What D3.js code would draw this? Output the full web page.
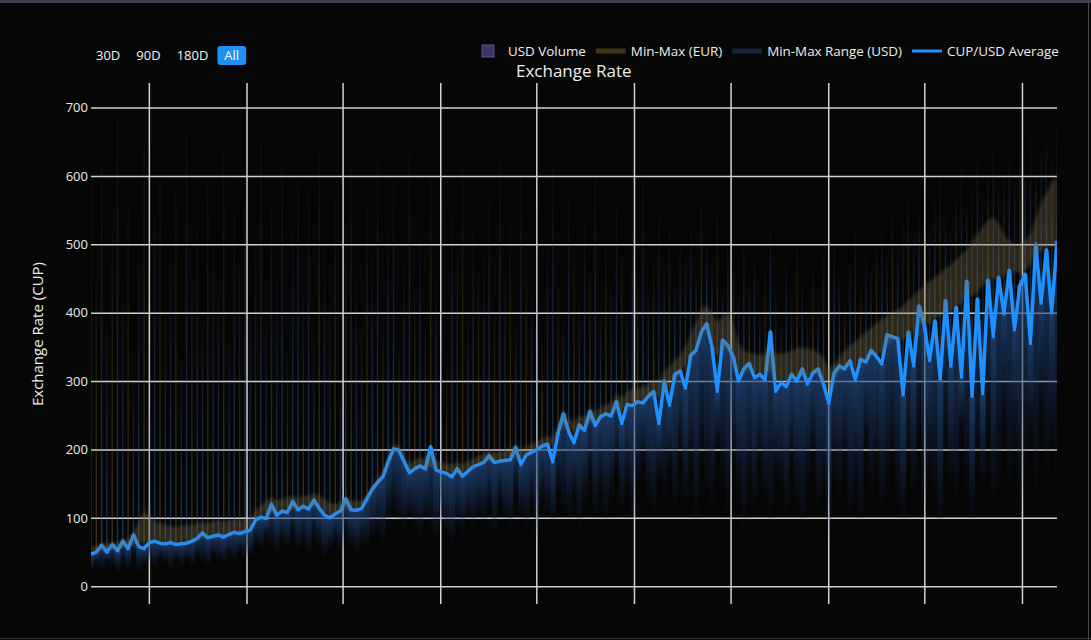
<!DOCTYPE html>
<html>
<head>
<meta charset="utf-8">
<script src="https://cdn.jsdelivr.net/npm/d3@7"></script>
<style>
  html, body { margin: 0; padding: 0; background: #060606; }
  svg { display: block; font-family: "Open Sans", sans-serif; }
</style>
</head>
<body>
<svg id="chart" width="1091" height="640"></svg>
<script>
// CUP/USD average, one value every 10 days
var avgUsd = [
  47, 50, 60, 50, 61, 52, 66, 55, 75, 58,
  55, 64, 66, 63, 62, 64, 61, 62, 63, 66,
  70, 78, 71, 73, 75, 72, 76, 79, 77, 80,
  82, 97, 101, 99, 120, 104, 110, 108, 124, 112,
  117, 113, 126, 114, 104, 100, 106, 110, 128, 112,
  111, 114, 128, 142, 152, 160, 182, 201, 199, 182,
  166, 172, 176, 172, 204, 170, 167, 165, 160, 172,
  161, 168, 175, 178, 181, 191, 181, 183, 184, 185,
  203, 178, 192, 196, 200, 205, 208, 182, 224, 252,
  226, 210, 236, 228, 256, 235, 248, 252, 249, 270,
  238, 266, 264, 270, 268, 278, 285, 238, 300, 265,
  310, 315, 290, 338, 345, 372, 384, 350, 285, 360,
  352, 336, 300, 318, 326, 305, 310, 302, 372, 285,
  298, 292, 310, 300, 318, 296, 312, 318, 296, 268,
  312, 322, 318, 330, 302, 332, 328, 345, 336, 325,
  368, 365, 362, 280, 372, 322, 410, 382, 330, 388,
  303, 418, 322, 408, 306, 446, 278, 420, 282, 448,
  365, 452, 398, 462, 375, 440, 456, 355, 500, 414,
  492, 400, 505
];

// EUR min-max band
var eurMin = [
  48, 50, 52, 52, 54, 54, 56, 56, 60, 62,
  64, 66, 66, 64, 63, 64, 63, 63, 64, 66,
  70, 72, 72, 73, 74, 74, 76, 77, 78, 80,
  84, 98, 102, 104, 108, 106, 110, 110, 113, 113,
  115, 115, 116, 114, 106, 102, 106, 110, 112, 112,
  112, 115, 125, 140, 150, 160, 180, 196, 196, 182,
  168, 172, 174, 172, 174, 170, 168, 165, 163, 166,
  164, 168, 174, 178, 181, 183, 182, 183, 184, 186,
  188, 186, 192, 196, 200, 204, 206, 205, 222, 235,
  228, 225, 232, 232, 240, 240, 246, 250, 252, 260,
  255, 264, 265, 268, 270, 276, 280, 275, 290, 290,
  305, 312, 320, 335, 345, 365, 378, 350, 335, 350,
  345, 330, 310, 315, 318, 310, 310, 308, 315, 300,
  300, 300, 306, 305, 310, 306, 310, 312, 300, 285,
  305, 315, 318, 325, 320, 328, 330, 338, 338, 340,
  355, 360, 362, 360, 366, 370, 385, 385, 382, 390,
  395, 405, 400, 410, 412, 425, 425, 430, 440, 445,
  450, 450, 455, 460, 460, 458, 462, 470, 485, 490,
  495, 498, 500
];
var eurMax = [
  58, 60, 64, 62, 66, 64, 70, 68, 80, 95,
  110, 105, 95, 92, 90, 88, 86, 88, 90, 90,
  92, 94, 92, 95, 96, 94, 96, 98, 97, 98,
  100, 112, 118, 125, 130, 125, 128, 130, 132, 130,
  132, 133, 135, 133, 128, 122, 120, 124, 130, 126,
  125, 126, 135, 148, 160, 170, 190, 208, 206, 192,
  180, 185, 188, 186, 195, 184, 182, 180, 178, 182,
  178, 182, 186, 190, 193, 198, 195, 197, 198, 200,
  208, 200, 205, 208, 212, 216, 220, 218, 238, 258,
  245, 240, 250, 248, 262, 255, 262, 265, 268, 282,
  275, 285, 288, 290, 292, 296, 302, 300, 315, 322,
  330, 338, 350, 370, 385, 405, 412, 400, 385, 395,
  400, 385, 355, 345, 342, 340, 338, 340, 345, 342,
  340, 342, 345, 348, 350, 348, 345, 342, 335, 320,
  325, 335, 345, 352, 358, 365, 372, 378, 385, 390,
  395, 400, 405, 410, 418, 425, 432, 440, 445, 452,
  458, 465, 470, 478, 485, 492, 505, 515, 525, 535,
  540, 530, 515, 505, 500, 498, 505, 515, 540, 560,
  575, 590, 600
];

// USD min-max range: lowest quote and the rare high spikes
var usdMin = [
  22, 30, 25, 35, 28, 20, 32, 26, 38, 22,
  30, 35, 28, 40, 33, 25, 38, 30, 36, 28,
  42, 35, 30, 45, 38, 32, 44, 36, 48, 40,
  45, 60, 52, 70, 58, 48, 66, 55, 72, 50,
  62, 45, 68, 56, 40, 52, 64, 48, 70, 58,
  44, 60, 55, 70, 80, 62, 95, 110, 90, 75,
  100, 85, 70, 95, 80, 65, 90, 72, 60, 88,
  75, 95, 82, 100, 90, 110, 75, 120, 95, 80,
  130, 100, 85, 115, 70, 125, 105, 90, 140, 110,
  95, 130, 80, 120, 150, 100, 135, 90, 125, 160,
  110, 140, 95, 150, 175, 120, 100, 160, 130, 170,
  110, 180, 120, 160, 90, 180, 140, 110, 200, 150,
  95, 170, 130, 80, 150, 110, 175, 125, 90, 160,
  140, 105, 170, 120, 85, 150, 190, 110, 140, 70,
  160, 125, 180, 100, 145, 90, 200, 130, 165, 110,
  150, 185, 120, 90, 170, 140, 210, 100, 160, 130,
  80, 190, 150, 115, 220, 135, 95, 175, 150, 205,
  120, 160, 230, 140, 190, 110, 170, 210, 130, 240,
  160, 200, 150
];
var spikeHi = [
  600, 450, 620, 380, 520, 690, 420, 560, 300, 480,
  650, 350, 540, 610, 400, 470, 580, 330, 660, 450,
  520, 380, 600, 490, 430, 640, 360, 550, 470, 610,
  400, 500, 650, 380, 560, 450, 620, 340, 520, 600,
  430, 580, 360, 640, 490, 410, 570, 300, 530, 610,
  450, 380, 560, 480, 620, 400, 520, 590, 350, 470,
  640, 430, 510, 380, 600, 450, 560, 320, 540, 480,
  610, 400, 520, 460, 480, 560, 400, 620, 450, 530,
  380, 600, 470, 420, 550, 360, 500, 610, 440, 390,
  570, 480, 420, 530, 460, 600, 410, 500, 440, 560,
  480, 400, 520, 450, 590, 430, 480, 540, 460, 520,
  440, 500, 480, 520, 450, 560, 500, 470, 540, 430,
  510, 460, 420, 500, 440, 480, 400, 460, 520, 430,
  380, 470, 420, 500, 440, 390, 460, 410, 480, 430,
  500, 450, 420, 470, 520, 440, 480, 460, 500, 520,
  480, 540, 500, 530, 560, 510, 540, 580, 520, 560,
  600, 540, 520, 570, 610, 550, 580, 620, 560, 600,
  640, 580, 600, 620, 590, 640, 610, 660, 600, 630,
  650, 620, 680
];

var yTicks = [0, 100, 200, 300, 400, 500, 600, 700];
var rangeButtons = ["30D", "90D", "180D", "All"];
var legendLabels = ["USD Volume", "Min-Max (EUR)", "Min-Max Range (USD)", "CUP/USD Average"];
var legendKinds = ["square", "band", "band", "line"];
var legendColors = ["#3b3569", "#3d3514", "#13233d", "#1e90ff"];

var start = new Date(2021, 2, 14);
var dates = avgUsd.map(function(d, i) { return d3.timeDay.offset(start, i * 10); });

var width = 1091, height = 640;
var plot = {left: 91, right: 1057, top: 83, bottom: 604};

var svg = d3.select("#chart");

var x = d3.scaleTime()
    .domain([dates[0], dates[dates.length - 1]])
    .range([plot.left, plot.right]);
var y = d3.scaleLinear()
    .domain([-26, 736])
    .range([plot.bottom, plot.top]);
var step = x(dates[1]) - x(dates[0]);

// frame of the screenshot
svg.append("rect").attr("width", width).attr("height", height).attr("fill", "#060606");
svg.append("rect").attr("width", width).attr("height", 3).attr("fill", "#3a4049");
svg.append("line").attr("x1", 1088.5).attr("x2", 1088.5).attr("y1", 3).attr("y2", height)
    .attr("stroke", "#4a4a4a");
svg.append("line").attr("x1", 0).attr("x2", width).attr("y1", 638.5).attr("y2", 638.5)
    .attr("stroke", "#3a3a3a");

var defs = svg.append("defs");
defs.append("clipPath").attr("id", "plotClip")
  .append("rect")
    .attr("x", plot.left).attr("y", plot.top)
    .attr("width", plot.right - plot.left).attr("height", plot.bottom - plot.top);

var g1 = defs.append("linearGradient").attr("id", "usdGrad")
    .attr("x1", 0).attr("y1", 0).attr("x2", 0).attr("y2", 1);
g1.append("stop").attr("offset", 0).attr("stop-color", "rgb(36,78,136)").attr("stop-opacity", 0.7);
g1.append("stop").attr("offset", 0.45).attr("stop-color", "rgb(26,56,102)").attr("stop-opacity", 0.5);
g1.append("stop").attr("offset", 1).attr("stop-color", "rgb(18,38,74)").attr("stop-opacity", 0.02);

var g2 = defs.append("linearGradient").attr("id", "spikeBlue")
    .attr("x1", 0).attr("y1", 0).attr("x2", 0).attr("y2", 1);
g2.append("stop").attr("offset", 0).attr("stop-color", "rgb(55,105,185)").attr("stop-opacity", 0.06);
g2.append("stop").attr("offset", 1).attr("stop-color", "rgb(55,105,185)").attr("stop-opacity", 0.45);

var g3 = defs.append("linearGradient").attr("id", "spikeGold")
    .attr("x1", 0).attr("y1", 0).attr("x2", 0).attr("y2", 1);
g3.append("stop").attr("offset", 0).attr("stop-color", "rgb(150,125,60)").attr("stop-opacity", 0.05);
g3.append("stop").attr("offset", 1).attr("stop-color", "rgb(150,125,60)").attr("stop-opacity", 0.35);

defs.append("filter").attr("id", "soft")
  .append("feGaussianBlur").attr("stdDeviation", 1.5);

// grid
svg.append("g")
    .attr("class", "y-grid")
    .attr("transform", "translate(" + plot.left + ",0)")
    .call(d3.axisLeft(y).tickValues(yTicks).tickSize(-(plot.right - plot.left)).tickPadding(3))
    .call(function(g) { g.select(".domain").remove(); })
    .call(function(g) {
      g.selectAll("line").attr("stroke", "#d2d2d2").attr("stroke-width", 1.5);
      g.selectAll("text").attr("fill", "#ebebeb").style("font-size", "13px")
        .style("font-family", "'Open Sans', sans-serif");
    });

svg.append("g")
    .attr("class", "x-grid")
    .attr("transform", "translate(0," + plot.bottom + ")")
    .call(d3.axisBottom(x).ticks(d3.timeMonth.every(6)).tickSize(-(plot.bottom - plot.top)).tickFormat(""))
    .call(function(g) { g.select(".domain").remove(); })
    .call(function(g) { g.selectAll("line").attr("stroke", "#d2d2d2").attr("stroke-width", 1.5); });

var chart = svg.append("g").attr("clip-path", "url(#plotClip)");

// faint high spikes
chart.append("g")
  .selectAll("rect")
  .data(dates)
  .enter().append("rect")
    .attr("x", function(d) { return x(d) - 0.7; })
    .attr("width", 1.4)
    .attr("y", function(d, i) { return y(spikeHi[i]); })
    .attr("height", function(d, i) { return y(avgUsd[i]) - y(spikeHi[i]); })
    .attr("fill", function(d, i) { return i % 3 === 1 ? "url(#spikeGold)" : "url(#spikeBlue)"; });

// USD min-max range under the average
chart.append("g")
  .selectAll("rect")
  .data(dates)
  .enter().append("rect")
    .attr("x", function(d) { return x(d) - step / 2; })
    .attr("width", step + 0.3)
    .attr("y", function(d, i) { return y(avgUsd[i]); })
    .attr("height", function(d, i) { return y(usdMin[i]) - y(avgUsd[i]); })
    .attr("fill", "url(#usdGrad)");

// average line
var line = d3.line()
    .x(function(d) { return x(d); })
    .y(function(d, i) { return y(avgUsd[i]); });

chart.append("path")
    .datum(dates)
    .attr("d", line)
    .attr("fill", "none")
    .attr("stroke", "#1e90ff")
    .attr("stroke-width", 3.5)
    .attr("stroke-linejoin", "round");

// EUR band over the line
var eurArea = d3.area()
    .x(function(d) { return x(d); })
    .y0(function(d, i) { return y(eurMin[i]); })
    .y1(function(d, i) { return y(eurMax[i]); });

chart.append("path")
    .datum(dates)
    .attr("d", eurArea)
    .attr("fill", "rgb(125,112,72)")
    .attr("fill-opacity", 0.32)
    .attr("filter", "url(#soft)");

// titles
svg.append("text")
    .attr("x", 516).attr("y", 77)
    .attr("fill", "#eeeeee")
    .style("font-size", "17px")
    .text("Exchange Rate");

svg.append("text")
    .attr("transform", "translate(43,334) rotate(-90)")
    .attr("text-anchor", "middle")
    .attr("fill", "#eeeeee")
    .style("font-size", "15px")
    .text("Exchange Rate (CUP)");

// range selector
var btnX = 96;
rangeButtons.forEach(function(label, i) {
  var b = svg.append("g").attr("class", "button");
  var t = b.append("text")
      .attr("x", btnX).attr("y", 60)
      .attr("fill", "#f2f2f2")
      .style("font-size", "13px")
      .text(label);
  var w = t.node().getComputedTextLength();
  if (label === "All") {
    b.insert("rect", "text")
        .attr("x", btnX - 7).attr("y", 46)
        .attr("width", w + 14).attr("height", 19)
        .attr("rx", 3)
        .attr("fill", "#1e8ff5");
    t.attr("fill", "#ffffff");
  }
  btnX += w + 16;
});

// legend
var legend = svg.append("g").attr("class", "legend");
var cx = 488;
legendLabels.forEach(function(label, i) {
  var kind = legendKinds[i];
  if (kind === "square") {
    legend.append("rect")
        .attr("x", cx - 6).attr("y", 45).attr("width", 12).attr("height", 12)
        .attr("fill", legendColors[i]).attr("stroke", "#5a5690").attr("stroke-width", 1);
  } else if (kind === "band") {
    legend.append("rect")
        .attr("x", cx - 15).attr("y", 48.5).attr("width", 30).attr("height", 5)
        .attr("fill", legendColors[i]);
  } else {
    legend.append("line")
        .attr("x1", cx - 15).attr("x2", cx + 15).attr("y1", 51).attr("y2", 51)
        .attr("stroke", legendColors[i]).attr("stroke-width", 3);
  }
  var t = legend.append("text")
      .attr("x", cx + 20).attr("y", 56)
      .attr("fill", "#eeeeee")
      .style("font-size", "13.4px")
      .text(label);
  cx += 20 + t.node().getComputedTextLength() + 25;
});
</script>
</body>
</html>
